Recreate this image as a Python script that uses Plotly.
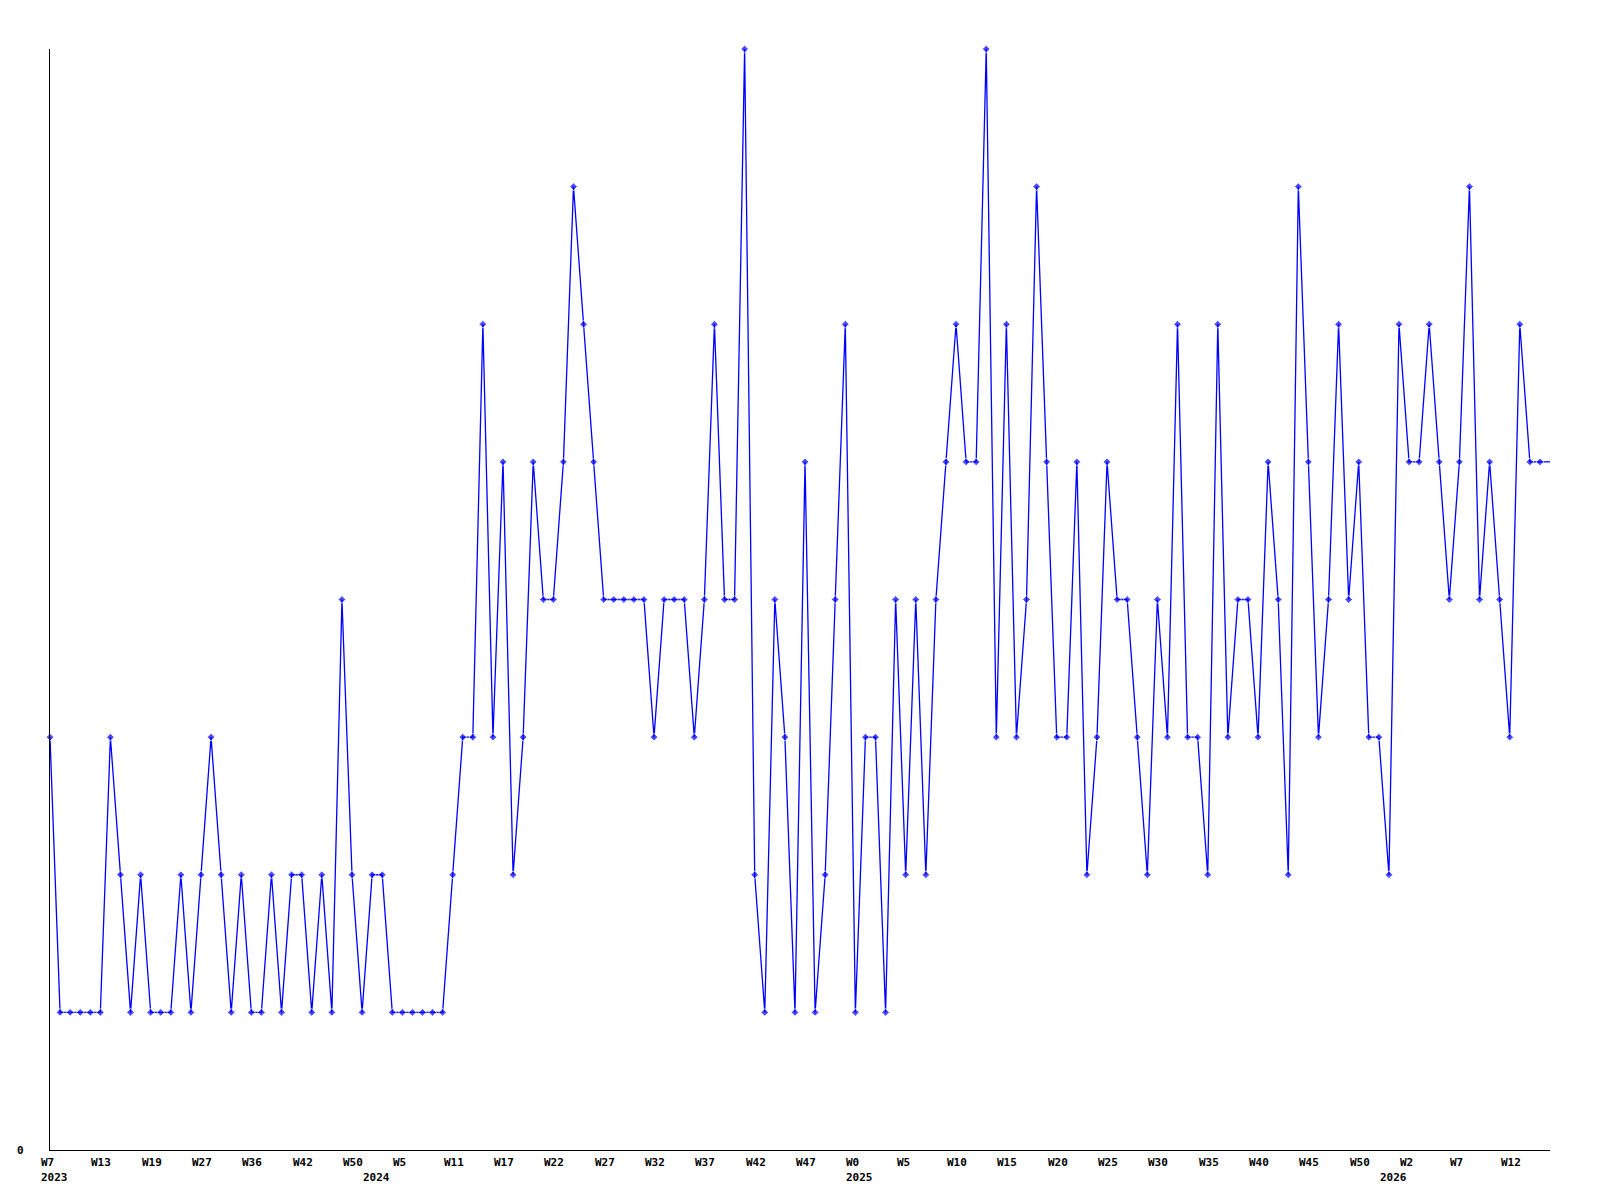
import plotly.graph_objects as go

# Weekly counts (one point per sampled week)
values = [
    3, 1, 1, 1, 1, 1, 3, 2, 1, 2,
    1, 1, 1, 2, 1, 2, 3, 2, 1, 2,
    1, 1, 2, 1, 2, 2, 1, 2, 1, 4,
    2, 1, 2, 2, 1, 1, 1, 1, 1, 1,
    2, 3, 3, 6, 3, 5, 2, 3, 5, 4,
    4, 5, 7, 6, 5, 4, 4, 4, 4, 4,
    3, 4, 4, 4, 3, 4, 6, 4, 4, 8,
    2, 1, 4, 3, 1, 5, 1, 2, 4, 6,
    1, 3, 3, 1, 4, 2, 4, 2, 4, 5,
    6, 5, 5, 8, 3, 6, 3, 4, 7, 5,
    3, 3, 5, 2, 3, 5, 4, 4, 3, 2,
    4, 3, 6, 3, 3, 2, 6, 3, 4, 4,
    3, 5, 4, 2, 7, 5, 3, 4, 6, 4,
    5, 3, 3, 2, 6, 5, 5, 6, 5, 4,
    5, 7, 4, 5, 4, 3, 6, 5, 5, 5,
]

week_labels = ["W7", "W13", "W19", "W27", "W36", "W42", "W50", "W5", "W11", "W17",
               "W22", "W27", "W32", "W37", "W42", "W47", "W0", "W5", "W10", "W15",
               "W20", "W25", "W30", "W35", "W40", "W45", "W50", "W2", "W7", "W12"]
week_label_step = 5

year_labels = ["2023", "2024", "2025", "2026"]
year_label_index = [0, 32, 80, 133]

y_max = 8

x = list(range(len(values)))
marker_sizes = [6] * len(values)
marker_sizes[-1] = 0

fig = go.Figure()
fig.add_trace(go.Scatter(
    x=x, y=values, mode="lines+markers",
    line=dict(color="#0000FF", width=1.3),
    marker=dict(symbol="diamond", size=marker_sizes, color="#0000FF"),
    cliponaxis=False, hoverinfo="skip", showlegend=False,
))

font = dict(family="DejaVu Sans Mono", size=11, color="#000000")
annotations = []
for k, lab in enumerate(week_labels):
    annotations.append(dict(
        x=k * week_label_step, y=0, xref="x", yref="paper",
        text="<b>%s</b>" % lab, showarrow=False, xanchor="left", yanchor="top",
        xshift=-11, yshift=-4, font=font,
    ))
for lab, idx in zip(year_labels, year_label_index):
    annotations.append(dict(
        x=idx, y=0, xref="x", yref="paper",
        text="<b>%s</b>" % lab, showarrow=False, xanchor="left", yanchor="top",
        xshift=-11, yshift=-19, font=font,
    ))
annotations.append(dict(
    x=0, y=0, xref="paper", yref="y", text="<b>0</b>", showarrow=False,
    xanchor="right", yanchor="middle", xshift=-24, font=font,
))

fig.update_layout(
    width=1584, height=1184, autosize=False,
    margin=dict(l=42, r=42, t=41, b=42),
    paper_bgcolor="white", plot_bgcolor="white",
    annotations=annotations,
    xaxis=dict(range=[0, len(values) - 1], showgrid=False, zeroline=False,
               showticklabels=False, ticks="", showline=True,
               linecolor="black", linewidth=1),
    yaxis=dict(range=[0, y_max], showgrid=False, zeroline=False,
               showticklabels=False, ticks="", showline=True,
               linecolor="black", linewidth=1),
)

fig.write_html("out.html")
